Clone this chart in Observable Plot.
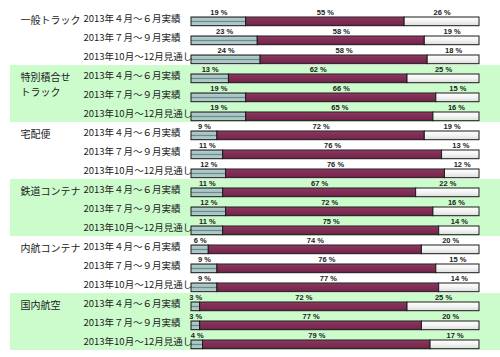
<!DOCTYPE html>
<html><head><meta charset="utf-8">
<script src="https://cdn.jsdelivr.net/npm/d3@7"></script>
<script src="https://cdn.jsdelivr.net/npm/@observablehq/plot@0.6"></script>
<style>
html,body{margin:0;padding:0;background:#fff;}
svg{display:block;}
</style>
</head><body>
<div id="chart"></div>
<script>
const categories = ["一般トラック", "特別積合せ\nトラック", "宅配便", "鉄道コンテナ", "内航コンテナ", "国内航空"];
const periods = ["2013年４月～６月実績", "2013年７月～９月実績", "2013年10月～12月見通し"];
const seg1 = [19, 23, 24, 13, 19, 19, 9, 11, 12, 11, 12, 11, 6, 9, 9, 3, 3, 4];
const seg2 = [55, 58, 58, 62, 66, 65, 72, 76, 76, 67, 72, 75, 74, 76, 77, 72, 77, 79];
const seg3 = [26, 19, 18, 25, 15, 16, 19, 13, 12, 22, 16, 14, 20, 15, 14, 25, 20, 17];
const shadedCategories = [1, 3, 5];

const rows = seg1.map((v, i) => ({
  row: i,
  cat: Math.floor(i / 3),
  period: periods[i % 3],
  a: v, b: seg2[i], c: seg3[i]
}));
const segs = [];
for (const r of rows) {
  let acc = 0;
  [["a", r.a], ["b", r.b], ["c", r.c]].forEach(([k, v]) => {
    segs.push({row: r.row, key: k, value: v, x1: acc, x2: acc + v});
    acc += v;
  });
}
const bandRows = rows.filter(r => shadedCategories.includes(r.cat));
const catRows = categories.map((c, i) => ({row: i * 3, label: c}));

const fills = {a: "url(#gA)", b: "url(#gB)", c: "url(#gC)"};
const barOpts = {y: "row", insetTop: 9, insetBottom: 1.3, stroke: "#1a1a1a", strokeWidth: 1};

const plot = Plot.plot({
  width: 500, height: 357,
  marginLeft: 191, marginRight: 21, marginTop: 5, marginBottom: 5,
  x: {domain: [0, 100], axis: null},
  y: {domain: d3.range(18), padding: 0, axis: null},
  style: {background: "#fff"},
  marks: [
    Plot.cell(bandRows, {y: "row", fill: "#ccfccc", insetLeft: -181, insetRight: -21}),
    ...["a", "b", "c"].map(k =>
      Plot.barX(segs.filter(s => s.key === k), {x1: "x1", x2: "x2", fill: fills[k], ...barOpts})
    ),
    Plot.text(segs, {
      x: d => (d.x1 + d.x2) / 2, y: "row", text: d => `${d.value} %`,
      dy: -5.5, fontSize: 7.5, fontWeight: "bold", fill: "#222",
      fontFamily: "'Liberation Sans Narrow', 'Arial Narrow', 'Liberation Sans', sans-serif"
    }),
    Plot.text(rows, {
      y: "row", text: "period", frameAnchor: "left", textAnchor: "start", dx: -108, dy: 0.5,
      fontSize: 9.5, fill: "#222", fontFamily: "'Noto Sans CJK JP', sans-serif"
    }),
    Plot.text(catRows, {
      y: "row", text: "label", frameAnchor: "left", textAnchor: "start", dx: -171,
      lineAnchor: "top", dy: -5, lineHeight: 1.5,
      fontSize: 10, fill: "#222", fontFamily: "'Noto Sans CJK JP', sans-serif"
    })
  ]
});

const svg = d3.select(plot);
const defs = svg.insert("defs", ":first-child");
function grad(id, stops) {
  const g = defs.append("linearGradient").attr("id", id)
    .attr("x1", 0).attr("y1", 0).attr("x2", 0).attr("y2", 1);
  stops.forEach(([o, c]) => g.append("stop").attr("offset", o).attr("stop-color", c));
}
grad("gA", [[0, "#7f9c9c"], [0.15, "#b3cccc"], [0.42, "#a3bfbf"], [0.5, "#5f7c7c"], [0.58, "#a3bfbf"], [0.85, "#b3cccc"], [1, "#7f9c9c"]]);
grad("gB", [[0, "#a24a72"], [0.2, "#86325a"], [0.8, "#7a2850"], [1, "#5c1c3b"]]);
grad("gC", [[0, "#ffffff"], [0.5, "#f3f3f3"], [1, "#dcdcdc"]]);

document.getElementById("chart").appendChild(plot);
</script>
</body></html>
